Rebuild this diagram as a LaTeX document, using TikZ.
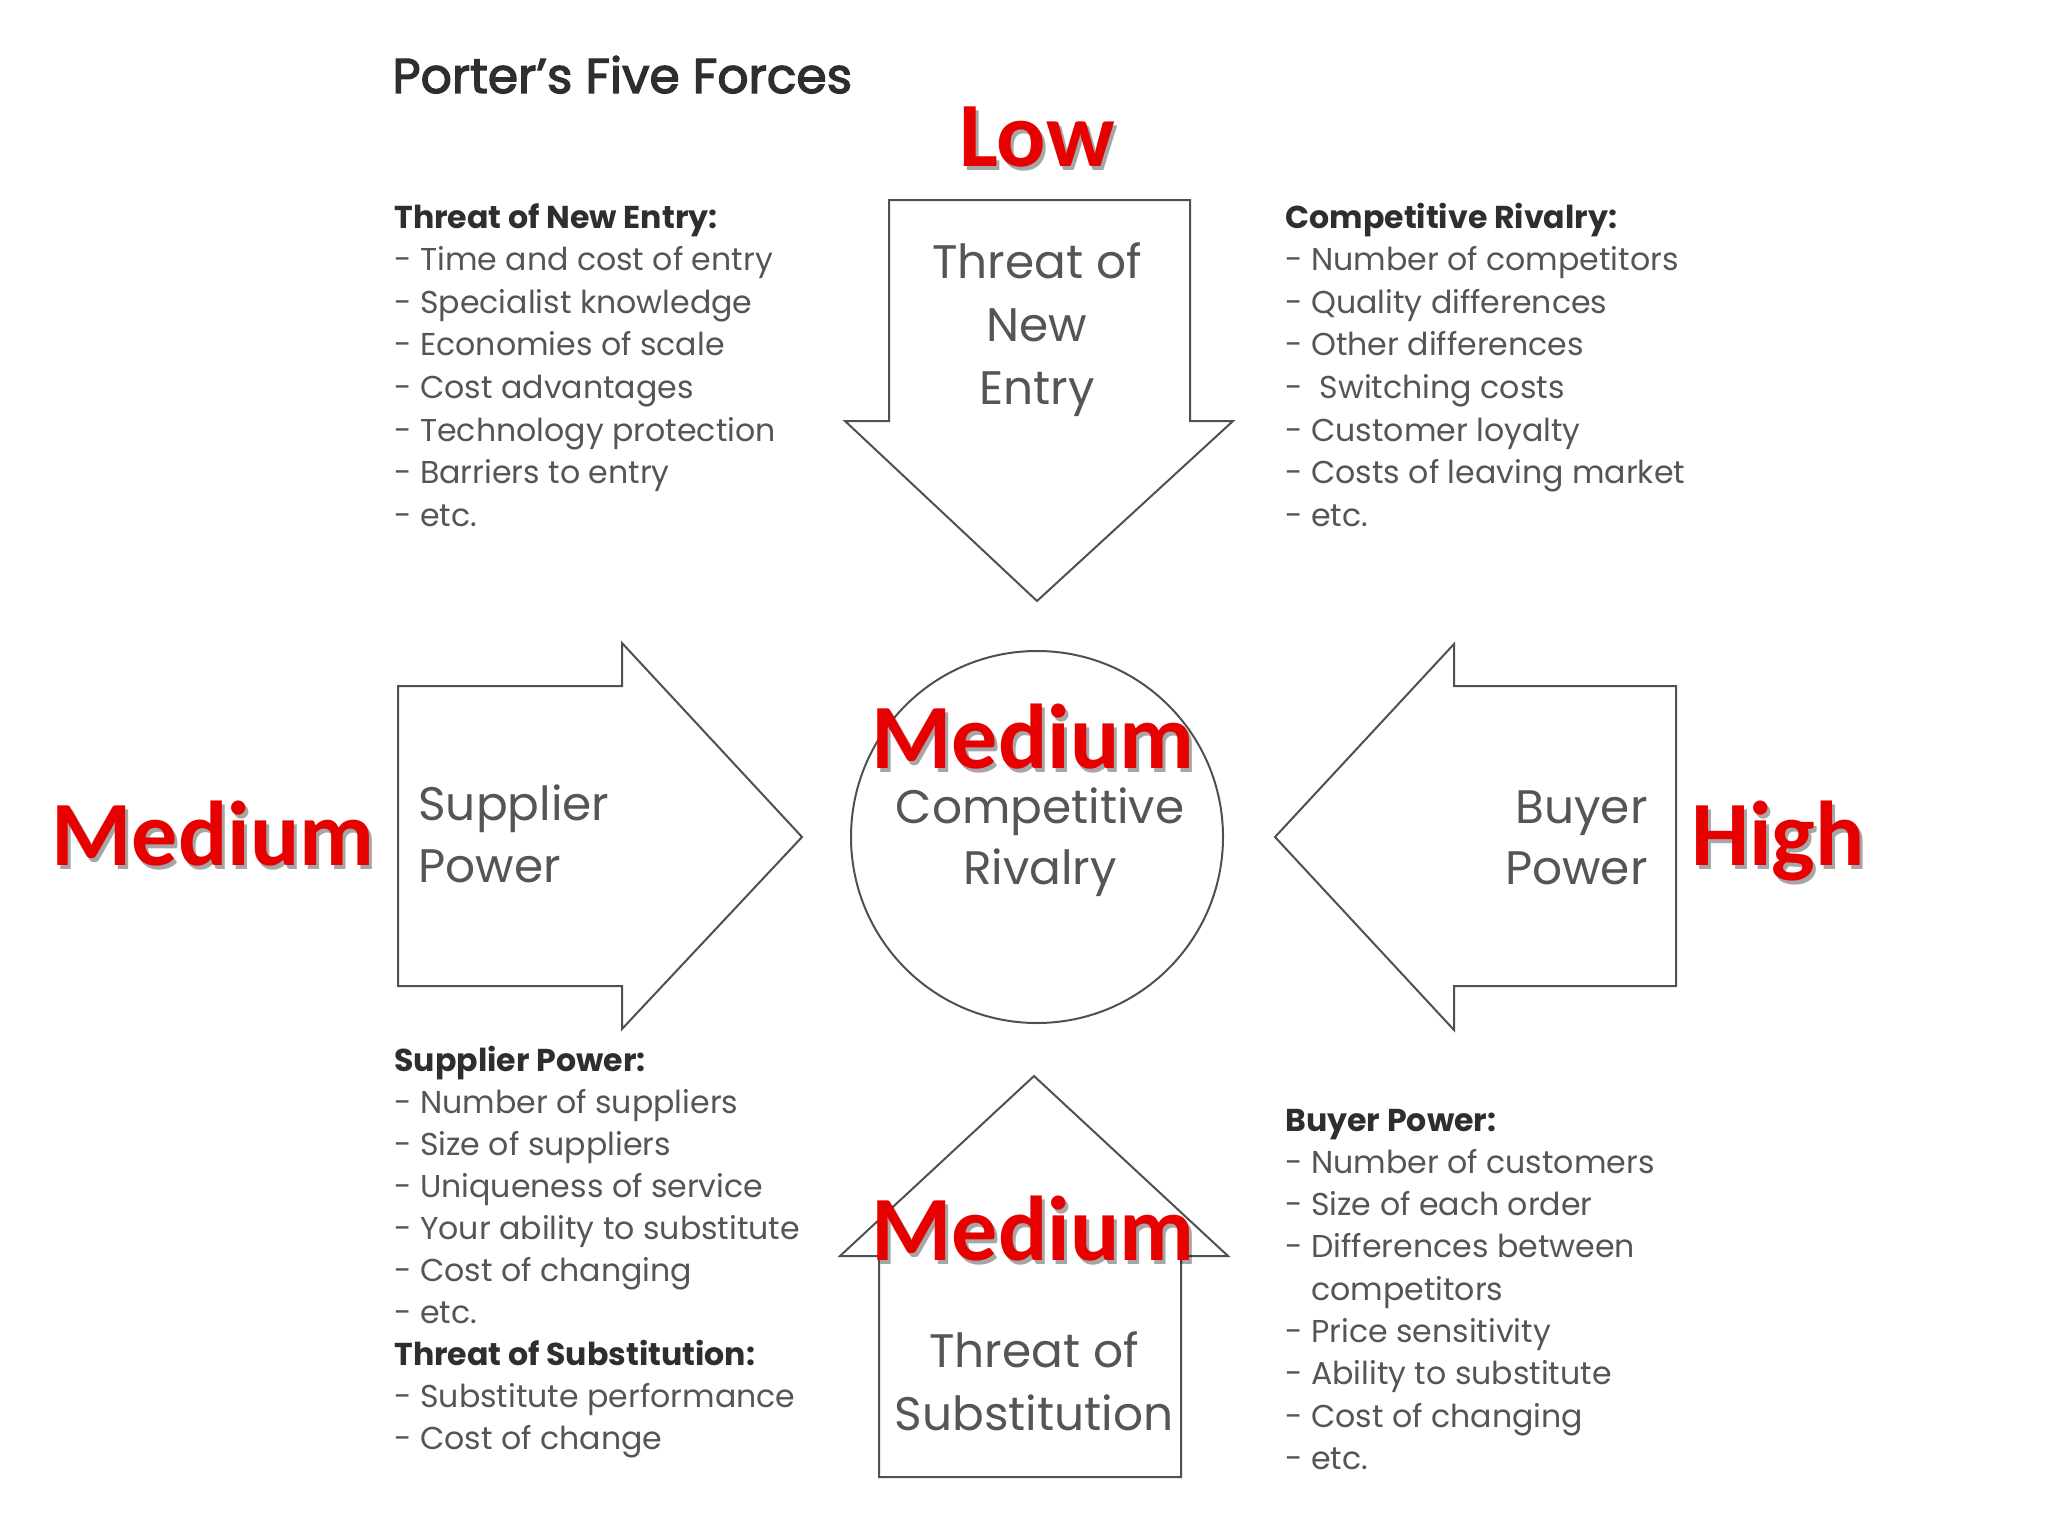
\documentclass[tikz,border=0pt]{standalone}
\usepackage{fontspec}
\setmainfont{Poppins}
\newfontfamily\redfont{Carlito}
\newfontfamily\titlefont{Poppins}[FakeBold=2.6]
\definecolor{txt}{HTML}{555555}
\definecolor{hdr}{HTML}{2E2E2E}
\definecolor{lbl}{HTML}{E60000}
\definecolor{edge}{HTML}{505050}
\begin{document}
\begin{tikzpicture}[x=0.5pt,y=-0.5pt,
  shapeline/.style={draw=edge, line width=1pt, line join=miter, fill=white},
  listtxt/.style={anchor=base west, inner sep=0pt, text=txt, font=\fontsize{15.8}{21}\selectfont},
  listhdr/.style={listtxt, text=hdr, font=\fontsize{15.8}{21}\selectfont\bfseries},
  arrtxt/.style={inner sep=0pt, text=txt, font=\fontsize{23.5}{30}\selectfont},
  redlbl/.style={anchor=base, inner sep=0pt, text=lbl, font=\redfont\bfseries\fontsize{46}{50}\selectfont},
  redshadow/.style={anchor=base, inner sep=0pt, text=black, opacity=0.35, font=\redfont\bfseries\fontsize{46}{50}\selectfont}
]
\fill[white] (0,0) rectangle (2048,1536);
\useasboundingbox (0,0) rectangle (2048,1536);

% title
\node[anchor=base west, inner sep=0pt, text=hdr, font=\titlefont\fontsize{24.4}{30}\selectfont] (title) at (392,93) {Porter’s Five Forces};

% arrows and circle
\draw[shapeline] (889,200) -- (1190,200) -- (1190,421) -- (1233,421) -- (1037,601) -- (845,421) -- (889,421) -- cycle;
\draw[shapeline] (398,686) -- (622,686) -- (622,643) -- (802,837) -- (622,1029) -- (622,986) -- (398,986) -- cycle;
\draw[shapeline] (1676,686) -- (1454,686) -- (1454,644) -- (1275,837) -- (1454,1030) -- (1454,986) -- (1676,986) -- cycle;
\draw[shapeline] (879,1477) -- (1181,1477) -- (1181,1256) -- (1228,1256) -- (1034,1076) -- (840,1256) -- (879,1256) -- cycle;
\draw[shapeline] (1037,837) circle[radius=186];

% arrow texts
\node[arrtxt, anchor=base] (tne1) at (1037,278) {Threat of};
\node[arrtxt, anchor=base] (tne2) at (1037,341) {New};
\node[arrtxt, anchor=base] (tne3) at (1037,404) {Entry};
\node[arrtxt, anchor=base west] (sp1) at (418,820) {Supplier};
\node[arrtxt, anchor=base west] (sp2) at (418,882) {Power};
\node[arrtxt, anchor=base east] (bp1) at (1648,823) {Buyer};
\node[arrtxt, anchor=base east] (bp2) at (1648,884) {Power};
\node[arrtxt, anchor=base] (cr1) at (1040,823) {Competitive};
\node[arrtxt, anchor=base] (cr2) at (1040,884) {Rivalry};
\node[arrtxt, anchor=base] (ts1) at (1034,1367) {Threat of};
\node[arrtxt, anchor=base] (ts2) at (1034,1430) {Substitution};

% lists
\node[listhdr] (la0) at (394,228) {Threat of New Entry:};
\foreach \t [count=\i] in {{- Time and cost of entry},{- Specialist knowledge},{- Economies of scale},{- Cost advantages},{- Technology protection},{- Barriers to entry},{- etc.}}
  \node[listtxt] (la\i) at (394,228+\i*42.6) {\t};

\node[listhdr] (lb0) at (1285,228) {Competitive Rivalry:};
\foreach \t [count=\i] in {{- Number of competitors},{- Quality differences},{- Other differences},{-\ \ Switching costs},{- Customer loyalty},{- Costs of leaving market},{- etc.}}
  \node[listtxt] (lb\i) at (1285,228+\i*42.6) {\t};

\node[listhdr] (lc0) at (394,1071) {Supplier Power:};
\foreach \t [count=\i] in {{- Number of suppliers},{- Size of suppliers},{- Uniqueness of service},{- Your ability to substitute},{- Cost of changing},{- etc.}}
  \node[listtxt] (lc\i) at (394,1071+\i*42) {\t};
\node[listhdr] (lc7) at (394,1071+7*42) {Threat of Substitution:};
\node[listtxt] (lc8) at (394,1071+8*42) {- Substitute performance};
\node[listtxt] (lc9) at (394,1071+9*42) {- Cost of change};

\node[listhdr] (ld0) at (1285,1131) {Buyer Power:};
\foreach \t [count=\i] in {{- Number of customers},{- Size of each order},{- Differences between},{\hphantom{-\ }competitors},{- Price sensitivity},{- Ability to substitute},{- Cost of changing},{- etc.}}
  \node[listtxt] (ld\i) at (1285,1131+\i*42.3) {\t};

% red ratings
\foreach \n/\x/\y/\s in {low/1037/166/Low, medl/213/865/Medium, high/1778/865/High, medc/1033/768/Medium, medb/1033/1260/Medium}{
  \node[redshadow] (\n s) at (\x+3,\y+4) {\s};
  \node[redlbl] (\n) at (\x,\y) {\s};
}
\end{tikzpicture}
\end{document}
